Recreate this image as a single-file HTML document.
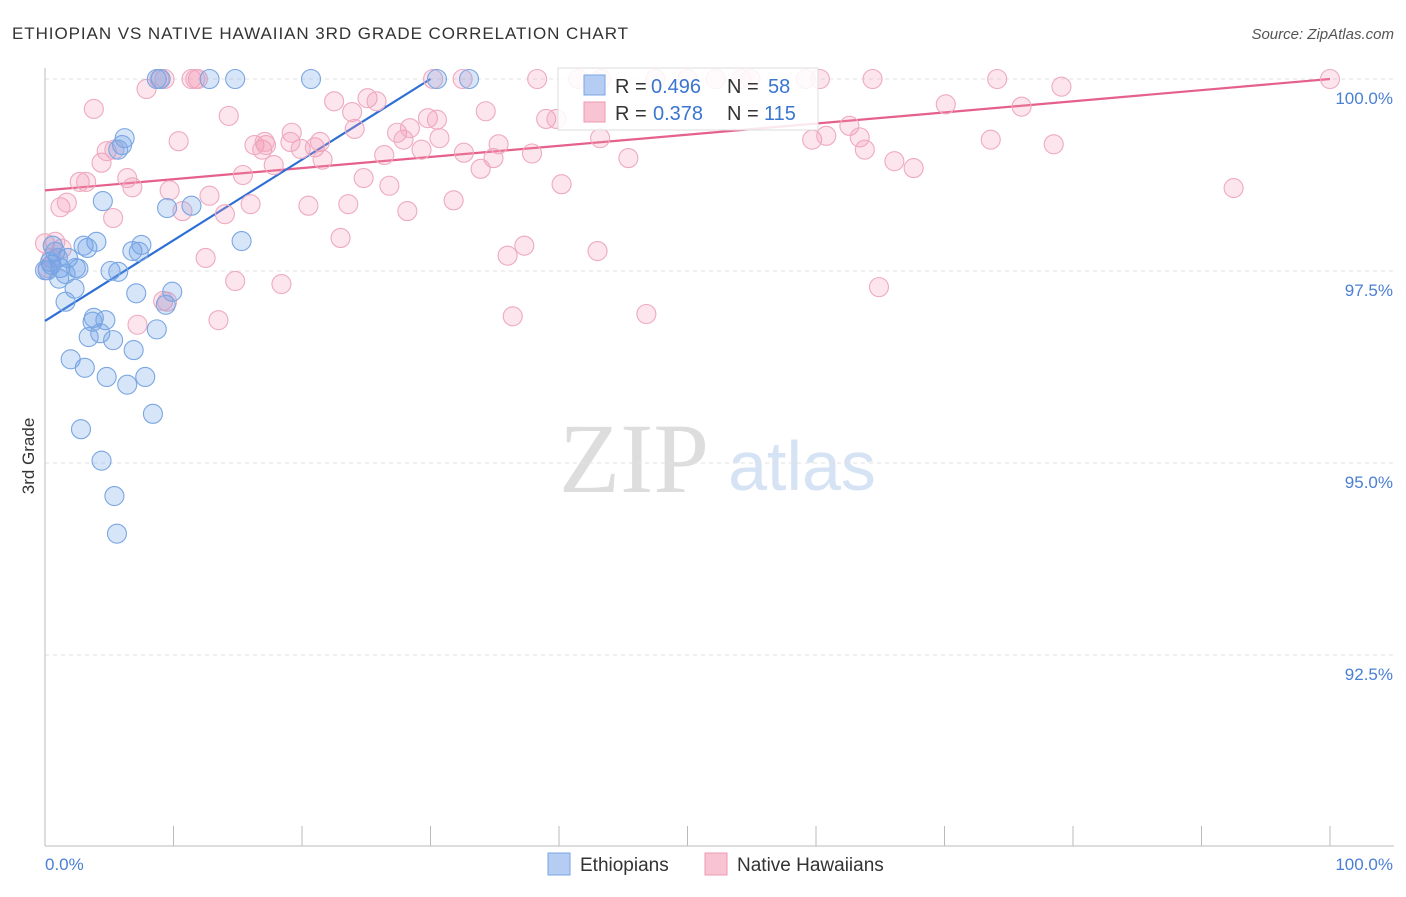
<!DOCTYPE html>
<html><head><meta charset="utf-8"><style>
body{margin:0;background:#fff;font-family:"Liberation Sans",sans-serif;}
</style></head><body>
<svg id="chart" width="1406" height="892" font-family="Liberation Sans, sans-serif">
<text x="12" y="39" font-size="17" fill="#333" textLength="616">ETHIOPIAN VS NATIVE HAWAIIAN 3RD GRADE CORRELATION CHART</text>
<text x="1394" y="39" font-size="15" fill="#555" font-style="italic" text-anchor="end">Source: ZipAtlas.com</text>
<text x="34" y="456" font-size="17" fill="#333" transform="rotate(-90 34 456)" text-anchor="middle">3rd Grade</text>
<g>
<text x="634" y="492" font-size="100" fill="#ddd" style="font-family:'Liberation Serif',serif" text-anchor="middle">ZIP</text>
<text x="802" y="490" font-size="70" fill="#d5e3f5" text-anchor="middle">atlas</text>
</g>
<g id="grid"></g><g id="axes"></g><g id="trend"></g><g id="pts"></g>
<g font-size="20">
<rect x="558" y="68" width="260" height="62" fill="#fff" fill-opacity="0.85" stroke="#ddd"/>
<rect x="584" y="75" width="21" height="20" fill="#b5cdf2" stroke="#7aa5e5"/>
<rect x="584" y="102" width="21" height="20" fill="#f8c3d2" stroke="#eb9bb3"/>
<text x="615" y="93" fill="#333">R =</text><text x="651" y="93" fill="#3a75d0">0.496</text>
<text x="727" y="93" fill="#333">N =</text><text x="768" y="93" fill="#3a75d0">58</text>
<text x="615" y="120" fill="#333">R =</text><text x="653" y="120" fill="#3a75d0">0.378</text>
<text x="727" y="120" fill="#333">N =</text><text x="764" y="120" fill="#3a75d0">115</text>
</g>
<g>
<rect x="548" y="853" width="22" height="22" fill="#b5cdf2" stroke="#7aa5e5"/>
<text x="580" y="871" font-size="19" fill="#333">Ethiopians</text>
<rect x="705" y="853" width="22" height="22" fill="#f8c3d2" stroke="#eb9bb3"/>
<text x="737" y="871" font-size="19" fill="#333">Native Hawaiians</text>
</g>
</svg>
<script>
const yTicks=[100,97.5,95,92.5];
const yTickLabels=["100.0%","97.5%","95.0%","92.5%"];
const xEndLabels=["0.0%","100.0%"];
const ethX=[8.7,9.0,12.8,14.8,20.7,30.5,33.0,6.2,6.0,5.7,4.5,9.5,11.4,15.3,4.0,3.0,3.3,7.5,6.8,7.3,0.6,0.8,1.8,0.5,1.2,0.2,1.6,2.6,2.4,5.1,5.7,1.1,2.3,7.1,9.9,9.4,1.6,3.8,3.7,4.7,3.4,4.3,5.3,8.7,6.9,2.0,3.1,4.8,7.8,6.4,8.4,2.8,4.4,5.4,5.6,0.4,1.0,0.0];
const ethY=[100,100,100,100,100,100,100,99.23,99.14,99.08,98.41,98.32,98.35,97.89,97.88,97.83,97.80,97.84,97.76,97.75,97.83,97.75,97.67,97.58,97.54,97.51,97.46,97.53,97.54,97.50,97.49,97.40,97.27,97.21,97.23,97.06,97.10,96.89,96.84,96.86,96.64,96.69,96.60,96.74,96.47,96.35,96.24,96.12,96.12,96.02,95.64,95.44,95.03,94.57,94.08,97.62,97.67,97.51];
const hawX=[0,0.8,1.3,0.5,0.2,1.2,1.7,2.7,3.2,3.8,4.4,4.8,5.4,5.3,6.4,6.8,7.9,8.9,9.3,9.7,10.4,10.7,11.4,11.9,12.8,14.0,14.3,14.8,13.5,12.5,15.4,16.0,16.3,16.9,17.2,17.8,18.4,19.2,19.1,19.9,20.5,21.0,21.4,21.6,22.5,23.0,23.6,23.9,24.1,24.8,25.1,25.8,26.4,26.8,27.4,27.9,28.2,28.4,29.3,29.8,30.2,30.5,30.7,31.8,32.5,32.6,33.9,34.3,34.9,35.3,36.0,36.4,37.3,37.9,38.3,39.0,39.8,40.2,41.5,43.0,43.2,43.3,45.4,46.8,47.5,50.0,52.2,54.2,54.9,59.2,59.7,60.3,60.8,62.6,63.4,63.8,64.4,64.9,66.1,67.6,70.1,73.6,74.1,76.0,78.5,79.1,92.5,100,11.7,7.2,9.2,9.5,17.1];
const hawY=[97.86,97.88,97.79,97.67,97.54,98.33,98.39,98.66,98.66,99.61,98.91,99.06,99.08,98.19,98.71,98.59,99.87,100,100,98.55,99.19,98.28,100,100,98.48,98.24,99.52,97.37,96.86,97.67,98.75,98.37,99.14,99.08,99.14,98.88,97.33,99.30,99.18,99.09,98.35,99.11,99.18,98.95,99.71,97.93,98.37,99.57,99.35,98.71,99.75,99.71,99.01,98.61,99.30,99.21,98.28,99.36,99.08,99.49,100,99.47,99.23,98.42,100,99.04,98.83,99.58,98.97,99.15,97.70,96.91,97.83,99.03,100,99.48,99.48,98.63,100,97.76,99.23,100,98.97,96.94,100,100,100,100,100,100,99.21,100,99.26,99.39,99.24,99.08,100,97.29,98.93,98.84,99.67,99.21,100,99.64,99.15,99.90,98.58,100,100,96.80,97.11,97.10,99.18];
const ethTrendX=[0,30];const ethTrendY=[96.85,100];
const hawTrendX=[0,100];const hawTrendY=[98.55,100];
const NS="http://www.w3.org/2000/svg";
const X0=45,X1=1330,Y100=79,PER=76.8;
const sx=v=>X0+(X1-X0)*v/100;
const sy=v=>Y100+(100-v)*PER;
function mk(t,a,p){const e=document.createElementNS(NS,t);for(const k in a)e.setAttribute(k,a[k]);p.appendChild(e);return e;}
const grid=document.getElementById('grid'),axes=document.getElementById('axes');
yTicks.forEach((v,i)=>{
 const l=mk('line',{x1:X0,x2:1394,y1:sy(v),y2:sy(v),stroke:'#e2e2e2','stroke-dasharray':'4 4'},grid);
 
 
 const t=mk('text',{x:1393,y:sy(v)+25,'font-size':17,fill:'#4a7fd4','text-anchor':'end'},axes);
 t.textContent=yTickLabels[i];
 
 
});
const ya=mk('line',{x1:X0,x2:X0,y1:68,y2:846,stroke:'#bbb'},axes);


const xa=mk('line',{x1:X0,x2:1394,y1:846,y2:846,stroke:'#bbb'},axes);


for(let i=0;i<=10;i++){const tk=mk('line',{x1:sx(i*10),x2:sx(i*10),y1:826,y2:846,stroke:'#bbb'},axes);
 
 }
[[X0,'start',0],[1393,'end',1]].forEach(([x,a,i])=>{const t=mk('text',{x:x,y:870,'font-size':17,fill:'#4a7fd4','text-anchor':a},axes);t.textContent=xEndLabels[i];
 
 });
const pts=document.getElementById('pts');
hawX.forEach((x,i)=>{const c=mk('circle',{cx:sx(x),cy:sy(hawY[i]),r:9.5,fill:'rgba(242,150,178,0.25)',stroke:'#eeaac0','stroke-width':1.1},pts);
 
 });
ethX.forEach((x,i)=>{const c=mk('circle',{cx:sx(x),cy:sy(ethY[i]),r:9.5,fill:'rgba(110,160,230,0.28)',stroke:'#7aa6e3','stroke-width':1.1},pts);
 
 });
const tr=document.getElementById('trend');
const l1=mk('line',{x1:sx(hawTrendX[0]),y1:sy(hawTrendY[0]),x2:sx(hawTrendX[1]),y2:sy(hawTrendY[1]),stroke:'#e5608a','stroke-width':2.2},tr);


const l2=mk('line',{x1:sx(ethTrendX[0]),y1:sy(ethTrendY[0]),x2:sx(ethTrendX[1]),y2:sy(ethTrendY[1]),stroke:'#2e6fd6','stroke-width':2.2},tr);


</script>
</body></html>
